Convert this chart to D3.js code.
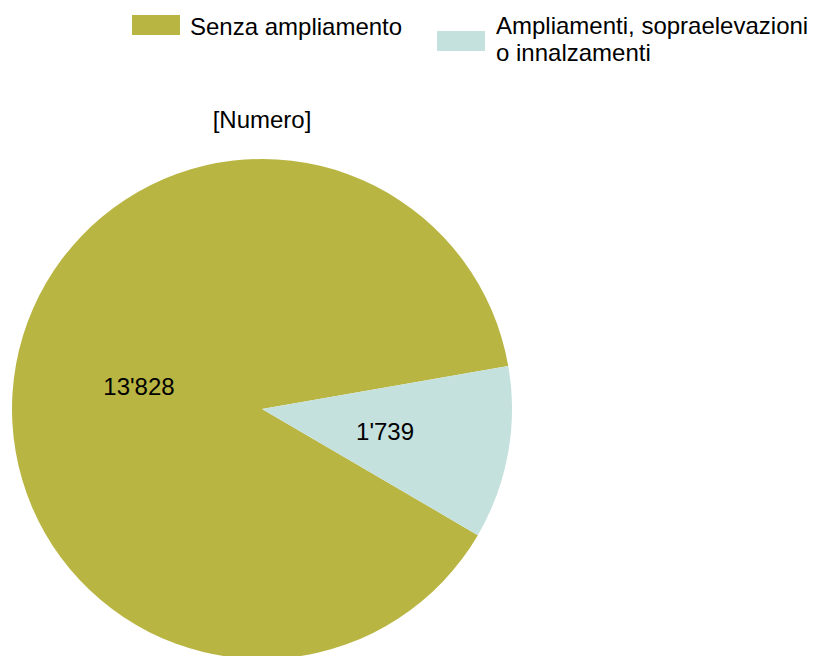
<!DOCTYPE html>
<html>
<head>
<meta charset="utf-8">
<script src="https://cdn.jsdelivr.net/npm/d3@7"></script>
<style>
    body { margin: 0; background: #fff; }
    text { font-family: "Liberation Sans", Arial, sans-serif; fill: #000; }
</style>
</head>
<body>
<div id="chart"></div>
<script>
// data
var categories = ["Senza ampliamento", "Ampliamenti, sopraelevazioni o innalzamenti"];
var legendLines = [["Senza ampliamento"], ["Ampliamenti, sopraelevazioni", "o innalzamenti"]];
var values = [13828, 1739];
var colors = ["#b9b543", "#c5e1de"];
var unitLabel = "[Numero]";

var svgWidth = 825;
var svgHeight = 656;

var cx = 262, cy = 409, radius = 250;
var fontSize = 24;

var svg = d3.select("#chart")
    .append("svg")
    .attr("width", svgWidth)
    .attr("height", svgHeight);

var data = categories.map(function(c, i) {
    return { name: c, value: values[i], color: colors[i], lines: legendLines[i] };
});

var start = 120.3 * Math.PI / 180;

var pie = d3.pie()
    .sort(null)
    .value(d => d.value)
    .startAngle(start)
    .endAngle(start + 2 * Math.PI);

var arc = d3.arc()
    .innerRadius(0)
    .outerRadius(radius);

var fmt = function(v) {
    return d3.format(",")(v).replace(/,/g, "'");
};

var pieGroup = svg.append("g")
    .attr("transform", `translate(${cx}, ${cy})`);

var arcs = pieGroup.selectAll("g.slice")
    .data(pie(data))
    .enter()
    .append("g")
    .attr("class", "slice");

arcs.append("path")
    .attr("d", arc)
    .attr("fill", d => d.data.color);

arcs.append("text")
    .attr("transform", d => `translate(${arc.centroid(d)})`)
    .attr("text-anchor", "middle")
    .attr("dy", "0.35em")
    .style("font-size", fontSize + "px")
    .text(d => fmt(d.data.value));

// title above pie
svg.append("text")
    .attr("x", cx)
    .attr("y", 128)
    .attr("text-anchor", "middle")
    .style("font-size", fontSize + "px")
    .text(unitLabel);

// legend
var legendPos = [
    { x: 132, y: 15, tx: 190, ty: 35 },
    { x: 437, y: 31, tx: 496, ty: 34 }
];

var legend = svg.append("g").attr("class", "legend");

data.forEach(function(d, i) {
    var p = legendPos[i];
    legend.append("rect")
        .attr("x", p.x)
        .attr("y", p.y)
        .attr("width", 48)
        .attr("height", 20)
        .attr("fill", d.color);

    var t = legend.append("text")
        .attr("x", p.tx)
        .attr("y", p.ty)
        .style("font-size", fontSize + "px");

    d.lines.forEach(function(line, j) {
        t.append("tspan")
            .attr("x", p.tx)
            .attr("dy", j === 0 ? 0 : 27)
            .text(line);
    });
});
</script>
</body>
</html>
